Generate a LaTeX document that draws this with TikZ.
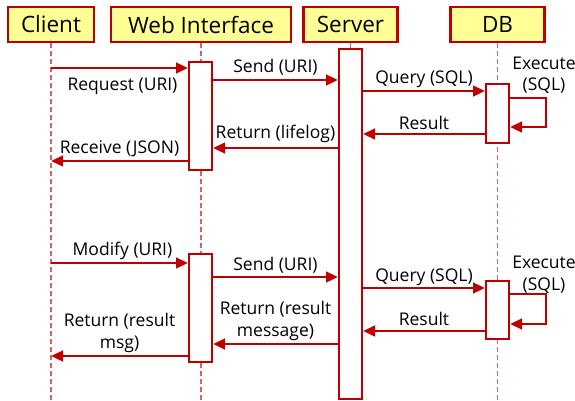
\documentclass[tikz,border=0pt]{standalone}
\usepackage{fontspec}
\setmainfont{Open Sans}
\usetikzlibrary{arrows.meta}
\definecolor{seqred}{RGB}{192,0,0}
\definecolor{lifered}{RGB}{222,96,96}
\definecolor{headfill}{RGB}{255,255,150}

\begin{document}
\begin{tikzpicture}[x=1pt, y=-1pt, font=\fontsize{17.5}{21.5}\selectfont, line join=miter, >={Triangle[length=12pt,width=10.5pt]}]
	\tikzset{
		head/.style={draw=seqred, line width=2.2pt, fill=headfill, minimum height=35pt, inner sep=0pt, font=\fontsize{22.5}{26}\selectfont},
		life/.style={draw=lifered, line width=1.3pt, dash pattern=on 5pt off 3pt},
		act/.style={draw=seqred, line width=2pt, fill=white, minimum width=23pt, inner sep=0pt},
		msg/.style={draw=seqred, line width=2.7pt, ->},
		lbl/.style={inner sep=0pt, anchor=base, align=center}
	}
	\useasboundingbox (0,0) rectangle (575,400);
	% headers
	\node[head, minimum width=86pt] (client) at (51,24.5) {Client};
	\node[head, minimum width=180pt] (web) at (201,24.5) {Web Interface};
	\node[head, minimum width=94pt] (server) at (350.5,24.5) {Server};
	\node[head, minimum width=94pt] (db) at (497.5,24.5) {DB};
	% lifelines
	\draw[life] (client.south) -- (client.south |- 0,400);
	\draw[life] (web.south) -- (web.south |- 0,400);
	\draw[life] (server.south) -- (server.south |- 0,400);
	\draw[life] (db.south) -- (db.south |- 0,400);
	% activations
	\node[act, minimum height=350pt] (srv) at (350.5,224) {};
	\node[act, minimum height=108pt] (web1) at (200.5,116) {};
	\node[act, minimum height=59pt] (db1) at (497.5,113.5) {};
	\node[act, minimum height=108pt] (web2) at (200.5,308) {};
	\node[act, minimum height=58pt] (db2) at (497.5,310) {};

	% first request
	\draw[msg] (client |- 0,68) -- (web1.west |- 0,68) node[lbl, midway, xshift=3pt, yshift=-22pt] {Request (URI)};
	\draw[msg] (web1.east |- 0,80) -- (srv.west |- 0,80) node[lbl, midway, yshift=7.5pt] {Send (URI)};
	\draw[msg] (srv.east |- 0,91) -- (db1.west |- 0,91) node[lbl, midway, yshift=7.5pt] {Query (SQL)};
	\draw[msg] (db1.east |- 0,98) -- ++(36,0) node[lbl, xshift=-2pt, yshift=7.5pt] {Execute\\(SQL)} |- (db1.east |- 0,127);
	\draw[msg] (db1.west |- 0,134) -- (srv.east |- 0,134) node[lbl, midway, yshift=5pt] {Result};
	\draw[msg] (srv.west |- 0,148) -- (web1.east |- 0,148) node[lbl, midway, yshift=9.5pt] {Return (lifelog)};
	\draw[msg] (web1.west |- 0,161) -- (client |- 0,161) node[lbl, midway, yshift=7.7pt] {Receive (JSON)};

	% second request
	\draw[msg] (client |- 0,263) -- (web2.west |- 0,263) node[lbl, midway, xshift=3pt, yshift=7.7pt] {Modify (URI)};
	\draw[msg] (web2.east |- 0,277) -- (srv.west |- 0,277) node[lbl, midway, yshift=7pt] {Send (URI)};
	\draw[msg] (srv.east |- 0,288) -- (db2.west |- 0,288) node[lbl, midway, yshift=6.3pt] {Query (SQL)};
	\draw[msg] (db2.east |- 0,294) -- ++(36,0) node[lbl, xshift=-2pt, yshift=4pt] {Execute\\(SQL)} |- (db2.east |- 0,324);
	\draw[msg] (db2.west |- 0,331) -- (srv.east |- 0,331) node[lbl, midway, yshift=5.7pt] {Result};
	\draw[msg] (srv.west |- 0,344) -- (web2.east |- 0,344) node[lbl, midway, yshift=7.6pt] {Return (result\\message)};
	\draw[msg] (web2.west |- 0,356) -- (client |- 0,356) node[lbl, midway, yshift=7.7pt] {Return (result\\msg)};
\end{tikzpicture}
\end{document}
